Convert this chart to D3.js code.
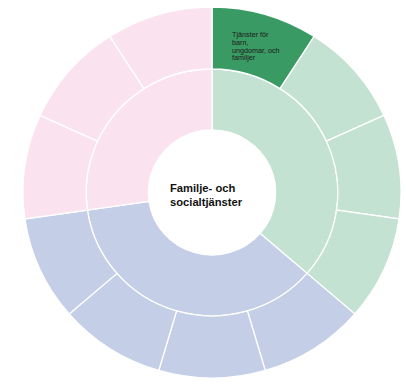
<!DOCTYPE html>
<html>
<head>
<meta charset="utf-8">
<script src="https://cdn.jsdelivr.net/npm/d3@7"></script>
<style>
  html, body { margin: 0; padding: 0; background: #ffffff; }
  svg { display: block; }
</style>
</head>
<body>
<script>
// ---- data ----
const rootLabel = ["Familje- och", "socialtjänster"];
const groupNames = ["Grupp 1", "Grupp 2", "Grupp 3"];
const groupColors = ["#c4e2d2", "#c4cee6", "#fae2ee"];
const leafValues = [[1, 1, 1, 1], [1, 1, 1, 1], [1, 1, 1]];
const leafLabels = [
  [["Tjänster för", "barn,", "ungdomar, och", "familjer"], [], [], []],
  [[], [], [], []],
  [[], [], []]
];
const highlightColor = "#3a9a63";
const highlightLeaf = [0, 0];

// ---- layout ----
const W = 406, H = 384;
const cx = 212, cy = 192.5;
const radii = [63, 124.5, 187];
const sx = 189 / 187, sy = 185.5 / 187;

const svg = d3.select("body").append("svg").attr("width", W).attr("height", H);
const g = svg.append("g").attr("transform", `translate(${cx},${cy})`);
const gArcs = g.append("g").attr("transform", `scale(${sx},${sy})`);

const tree = {
  name: rootLabel.join(" "),
  children: groupNames.map((gname, gi) => ({
    name: gname, gi,
    children: leafValues[gi].map((v, li) => ({ name: gname + "-" + li, gi, li, value: v, lines: leafLabels[gi][li] }))
  }))
};

const root = d3.hierarchy(tree).sum(d => d.value || 0);
d3.partition().size([2 * Math.PI, 3])(root);

const r = d3.scaleLinear().domain([1, 2, 3]).range(radii);

const arc = d3.arc()
  .startAngle(d => d.x0)
  .endAngle(d => d.x1)
  .innerRadius(d => r(d.y0))
  .outerRadius(d => r(d.y1));

const nodes = root.descendants().filter(d => d.depth > 0);

gArcs.selectAll("path.seg")
  .data(nodes)
  .join("path")
  .attr("class", "seg")
  .attr("d", arc)
  .attr("fill", d => (d.depth === 2 && d.data.gi === highlightLeaf[0] && d.data.li === highlightLeaf[1]) ? highlightColor : groupColors[d.data.gi])
  .attr("stroke", "#ffffff")
  .attr("stroke-width", 1.3)
  .attr("vector-effect", "non-scaling-stroke");

// leaf labels
nodes.filter(d => d.depth === 2 && d.data.lines && d.data.lines.length).forEach(d => {
  let [mx, my] = arc.centroid(d);
  mx *= sx; my *= sy;
  const t = g.append("text")
    .attr("font-family", "Liberation Sans, Arial, sans-serif")
    .attr("font-size", 7.2)
    .attr("fill", "#1b1b1b");
  const n = d.data.lines.length;
  const lh = 7.6;
  d.data.lines.forEach((ln, i) => {
    t.append("tspan").attr("y", my + (i - (n - 1) / 2) * lh + 4.6).text(ln);
  });
  let maxW = 0;
  t.selectAll("tspan").each(function () { maxW = Math.max(maxW, this.getComputedTextLength()); });
  t.selectAll("tspan").attr("x", mx - maxW / 2 - 0.5);
});

// center label
const ct = g.append("text")
  .attr("font-family", "Liberation Sans, Arial, sans-serif")
  .attr("font-weight", "bold")
  .attr("font-size", 11.2)
  .attr("fill", "#111111");
rootLabel.forEach((ln, i) => {
  ct.append("tspan").attr("x", -42).attr("y", -0.8 + i * 14).text(ln);
});
</script>
</body>
</html>
